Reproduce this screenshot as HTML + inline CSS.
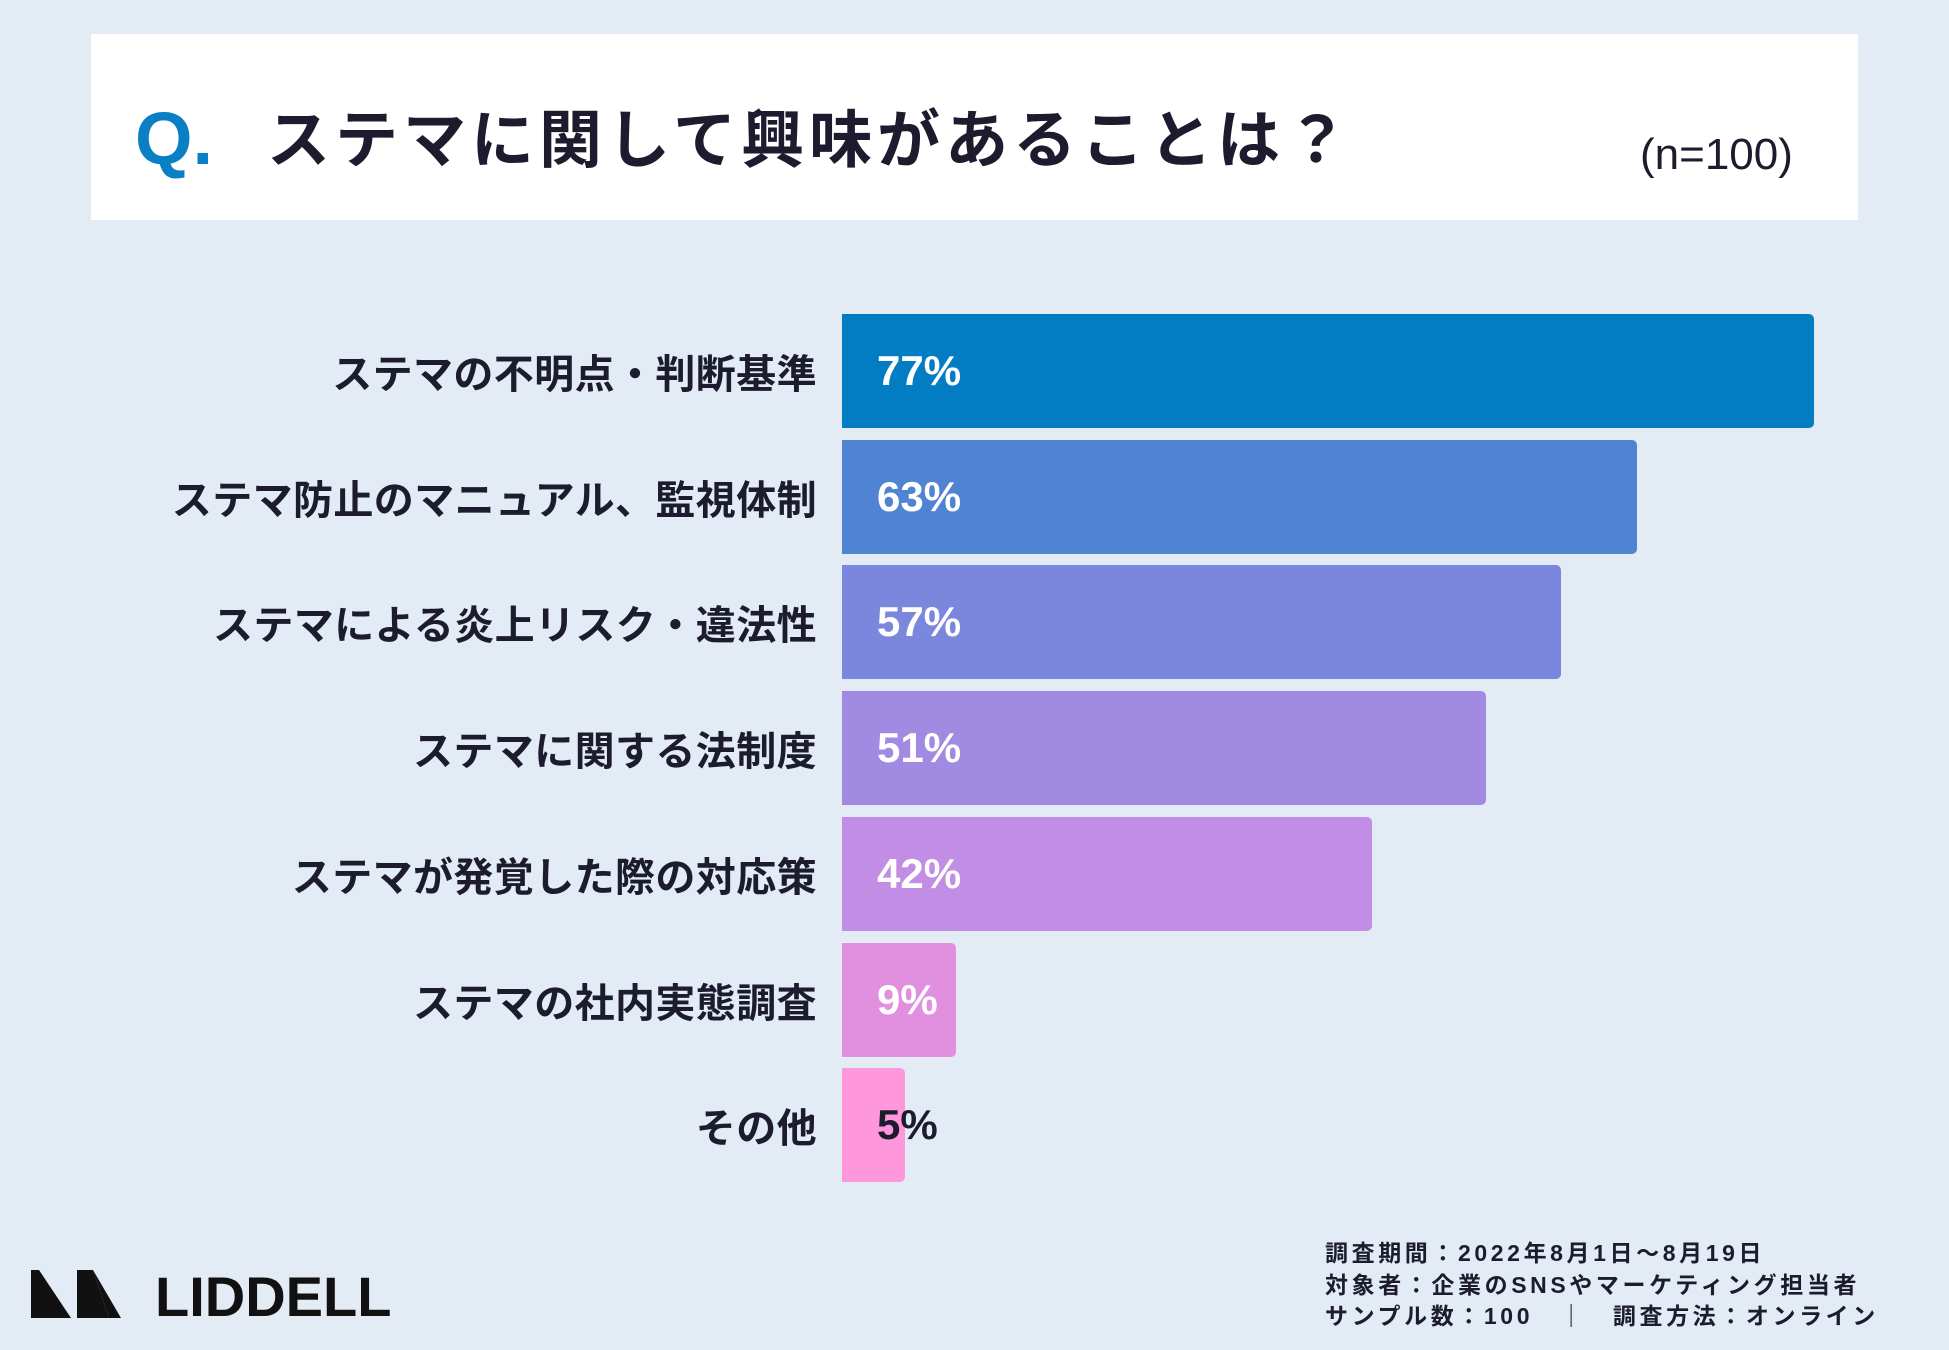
<!DOCTYPE html>
<html><head><meta charset="utf-8"><style>
body{margin:0;width:1949px;height:1350px;background:#e3ecf4;font-family:"Liberation Sans","Noto Sans CJK JP",sans-serif;position:relative;overflow:hidden;color:#1c1c2e}
.hdr{position:absolute;left:91px;top:34px;width:1767px;height:186px;background:#fff}
.q{position:absolute;left:135px;top:96px;font-size:74px;font-weight:bold;color:#0b7fc4}
.title{position:absolute;left:267px;top:90px;font-size:63px;font-weight:bold;letter-spacing:5px}
.n{position:absolute;left:1640px;top:130px;font-size:44px}
.lbl{position:absolute;right:1132px;font-size:40px;font-weight:bold;letter-spacing:0.4px;white-space:nowrap;transform:translateY(-50%)}
.bar{position:absolute;left:842px;border-radius:0 5px 5px 0}
.val{position:absolute;left:877px;font-size:42px;font-weight:bold;color:#fff;transform:translateY(-50%)}
.ft{position:absolute;left:1325px;font-size:23px;font-weight:bold;letter-spacing:3.6px;transform:translateY(-50%);white-space:nowrap}
</style></head><body>
<div class="hdr"></div>
<div class="q">Q.</div>
<div class="title">ステマに関して興味があることは？</div>
<div class="n">(n=100)</div>
<div id="chart"></div>
<svg style="position:absolute;left:31px;top:1268px" width="370" height="52">
<polygon points="0,2 8,2 8,50 0,50" fill="#111"/><polygon points="8,2 40,50 8,50" fill="#111"/>
<polygon points="46,2 62,2 78,50 46,50" fill="#111"/><polygon points="62,2 90,50 78,50" fill="#111"/>
<text x="124" y="48" font-family="Liberation Sans" font-weight="bold" font-size="56" fill="#111" letter-spacing="0">LIDDELL</text>
</svg>
<div class="ft" style="top:1251px">調査期間：2022年8月1日〜8月19日</div>
<div class="ft" style="top:1283px">対象者：企業のSNSやマーケティング担当者</div>
<div class="ft" style="top:1314px">サンプル数：100　｜　調査方法：オンライン</div>
<script>
const categories=["ステマの不明点・判断基準","ステマ防止のマニュアル、監視体制","ステマによる炎上リスク・違法性","ステマに関する法制度","ステマが発覚した際の対応策","ステマの社内実態調査","その他"];
const values=[77,63,57,51,42,9,5];
const colors=["#027dc4","#5183d3","#7b87dc","#a08ae2","#c28de5","#e190e0","#ff97dd"];
const x=v=>v*12.62, y=i=>371+i*125.7;
const c=document.getElementById('chart');
categories.forEach((cat,i)=>{
 const l=document.createElement('div');l.className='lbl';l.style.top=y(i)+'px';l.textContent=cat;
 
 c.appendChild(l);
 const b=document.createElement('div');b.className='bar';b.style.top=(y(i)-57)+'px';b.style.height='114px';b.style.width=x(values[i])+'px';b.style.background=colors[i];
 
 c.appendChild(b);
 const v=document.createElement('div');v.className='val';v.style.top=y(i)+'px';v.textContent=values[i]+'%';
 if(values[i]<8)v.style.color='#1c1c2e';
 
 c.appendChild(v);
});
</script>
</body></html>
